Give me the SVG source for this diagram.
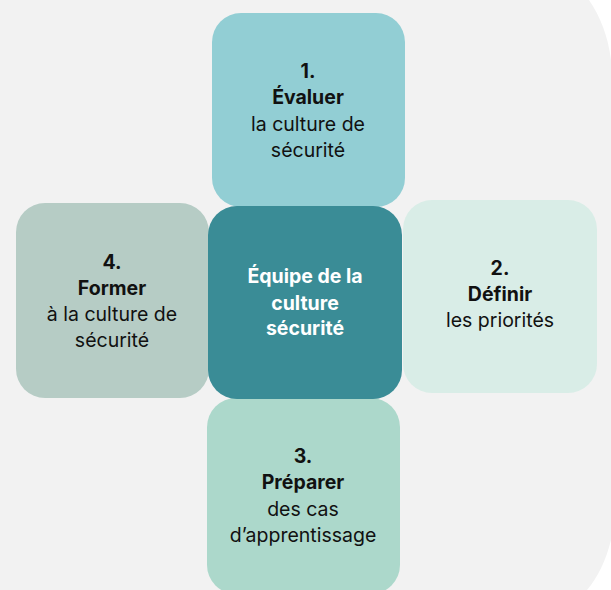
<svg xmlns="http://www.w3.org/2000/svg" width="611" height="590" viewBox="0 0 611 590">
<style>
.t{font-family:Inter,"Liberation Sans",sans-serif;font-size:19.5px;fill:#111;text-anchor:middle}
.b{font-weight:bold}
.w{fill:#fff;font-weight:bold}
</style>
<rect x="0" y="0" width="611" height="590" fill="#ffffff"/>
<path d="M0,0 H589 C600,16 608,36 611,60 V540 C606,560 598,577 587,590 H0 Z" fill="#f2f2f2"/>
<g id="node1">
<rect x="212" y="13" width="193" height="194" rx="29" fill="#92ced4"/>
<text class="t b" x="308" y="78">1.</text>
<text class="t b" x="308" y="104">Évaluer</text>
<text class="t" x="308" y="131">la culture de</text>
<text class="t" x="308" y="157">sécurité</text>
</g>
<g id="node4">
<rect x="16" y="203" width="193" height="195" rx="29" fill="#b6ccc5"/>
<text class="t b" x="112" y="269">4.</text>
<text class="t b" x="112" y="295">Former</text>
<text class="t" x="112" y="321">à la culture de</text>
<text class="t" x="112" y="347">sécurité</text>
</g>
<g id="node2">
<rect x="403" y="200" width="194" height="193" rx="29" fill="#d9ede7"/>
<text class="t b" x="500" y="275">2.</text>
<text class="t b" x="500" y="301">Définir</text>
<text class="t" x="500" y="327">les priorités</text>
</g>
<g id="node3">
<rect x="207" y="398" width="193" height="196" rx="29" fill="#acd8cb"/>
<text class="t b" x="303" y="463">3.</text>
<text class="t b" x="303" y="489">Préparer</text>
<text class="t" x="303" y="516">des cas</text>
<text class="t" x="303" y="542">d’apprentissage</text>
</g>
<g id="center">
<rect x="208" y="206" width="194" height="193" rx="29" fill="#3a8c96"/>
<text class="t w" x="305" y="283">Équipe de la</text>
<text class="t w" x="305" y="310">culture</text>
<text class="t w" x="305" y="335">sécurité</text>
</g>
<g id="connectors"></g>
</svg>
